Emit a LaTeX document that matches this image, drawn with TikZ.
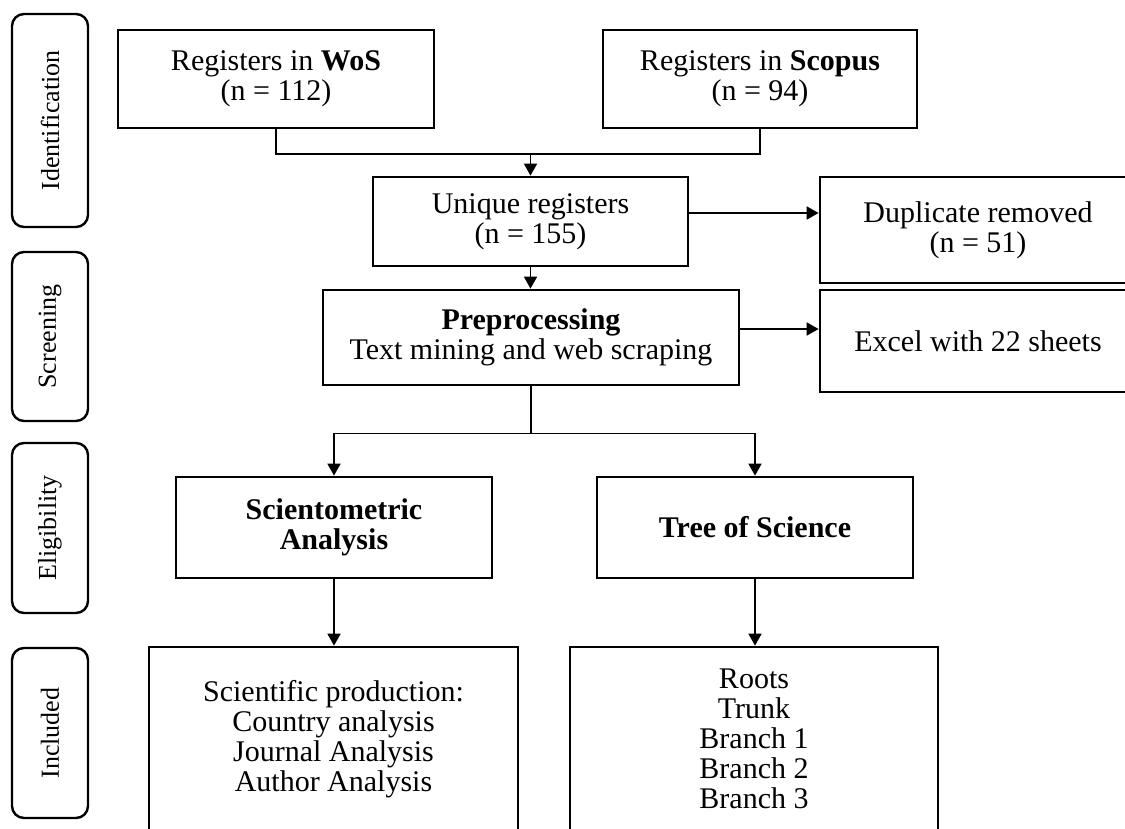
\documentclass[tikz,border=0pt]{standalone}
\usepackage{fontspec}
\setmainfont{Liberation Serif}
\usetikzlibrary{arrows.meta,calc}
\tikzset{
  box/.style={draw=black, line width=1.35pt, fill=white, inner sep=0pt, align=center,
    font=\fontsize{15pt}{15pt}\selectfont},
  sidelabel/.style={draw=black, line width=1.2pt, rounded corners=6pt, inner sep=0pt,
    minimum width=38pt, font=\fontsize{13pt}{13pt}\selectfont},
  conn/.style={draw=black, line width=0.85pt},
  arr/.style={conn, -{Triangle[length=6pt,width=6.5pt]}},
}
\begin{document}
\begin{tikzpicture}[x=0.5pt,y=-0.5pt]
\clip (0,0) rectangle (1125,829);
\fill[white] (0,0) rectangle (1125,829);

% side labels
\node[sidelabel, minimum height=106.5pt] (idl) at (50,120.5) {};
\node[rotate=90, font=\fontsize{13pt}{13pt}\selectfont] (idt) at (idl) {Identification};
\node[sidelabel, minimum height=84.5pt] (scl) at (50,336.5) {};
\node[rotate=90, font=\fontsize{13pt}{13pt}\selectfont] (sct) at (scl) {Screening};
\node[sidelabel, minimum height=85pt] (ell) at (50,528) {};
\node[rotate=90, font=\fontsize{13pt}{13pt}\selectfont] (elt) at (ell) {Eligibility};
\node[sidelabel, minimum height=85pt] (inl) at (50,733) {};
\node[rotate=90, font=\fontsize{13pt}{13pt}\selectfont] (int) at (inl) {Included};

% boxes
\node[box, minimum width=158pt, minimum height=49pt] (wos) at (276,79)
  {Registers in \textbf{WoS}\\(n = 112)};
\node[box, minimum width=157pt, minimum height=49pt] (sco) at (760,79)
  {Registers in \textbf{Scopus}\\(n = 94)};
\node[box, minimum width=157.5pt, minimum height=44.5pt] (uni) at (530.5,221.5)
  {Unique registers\\(n = 155)};
\node[box, minimum width=158pt, minimum height=53pt] (dup) at (978,230)
  {Duplicate removed\\(n = 51)};
\node[box, minimum width=208pt, minimum height=47.5pt] (pre) at (531,337.5)
  {\textbf{Preprocessing}\\Text mining and web scraping};
\node[box, minimum width=158pt, minimum height=51pt] (exc) at (978,341)
  {Excel with 22 sheets};
\node[box, minimum width=158pt, minimum height=50.5pt] (sci) at (334,527.5)
  {\textbf{Scientometric}\\\textbf{Analysis}};
\node[box, minimum width=158pt, minimum height=50.5pt] (tos) at (755,527.5)
  {\textbf{Tree of Science}};
\node[box, minimum width=184.5pt, minimum height=92pt] (bl) at (333.5,739)
  {Scientific production:\\Country analysis\\Journal Analysis\\Author Analysis};
\node[box, minimum width=184pt, minimum height=92pt] (br) at (754,739)
  {Roots\\Trunk\\Branch 1\\Branch 2\\Branch 3};

% connectors
\draw[conn] (wos.south) -- ++(0,25) coordinate (m1) -| (sco.south);
\coordinate (m2) at (uni.north |- m1);
\draw[arr] (m2) -- (uni.north);
\draw[arr] (uni.south) -- (uni.south |- pre.north);
\coordinate (a1) at ([yshift=4.25pt]uni.east);
\draw[arr] (a1) -- (a1 -| dup.west);
\coordinate (a2) at ([yshift=4.25pt]pre.east);
\draw[arr] (a2) -- (a2 -| exc.west);
\draw[conn] (pre.south) -- ++(0,47) coordinate (sp);
\draw[arr] (sp) -| (sci.north);
\draw[arr] (sp) -| (tos.north);
\draw[arr] (sci.south) -- (sci.south |- bl.north);
\draw[arr] (tos.south) -- (tos.south |- br.north);
\end{tikzpicture}
\end{document}
